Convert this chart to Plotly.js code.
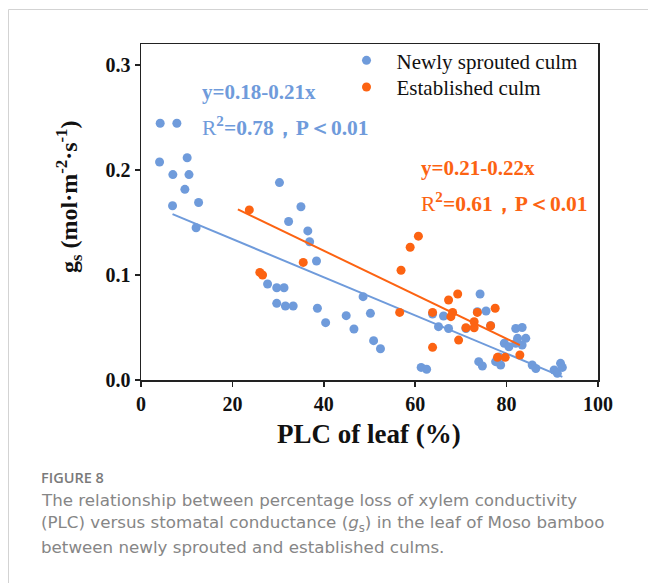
<!DOCTYPE html>
<html>
<head>
<meta charset="utf-8">
<script src="https://cdn.plot.ly/plotly-3.0.1.min.js"></script>
<style>
html,body{margin:0;padding:0;background:#fff;}
#chart{width:648px;height:583px;}
</style>
</head>
<body>
<div id="chart"></div>
<script>
// ---- data ----
const newlyX = [4.2,7.85,4.06,10.1,6.97,10.5,9.6,6.9,12.6,12.06,
  30.3,35.0,32.3,36.5,36.9,38.4,
  27.7,29.7,31.3,29.7,31.6,33.3,38.6,40.4,44.9,
  48.6,50.2,46.6,50.9,52.4,61.3,62.5,
  63.8,65.1,66.2,67.3,71.1,73.6,75.5,76.5,74.2,73.9,74.7,
  77.6,78.7,78.4,82.0,83.4,82.4,84.2,79.5,80.5,82.0,83.4,
  85.6,86.4,90.4,91.1,91.8,92.2];
const newlyY = [0.2445,0.2445,0.2076,0.2117,0.1956,0.1956,0.1816,0.166,0.169,0.145,
  0.188,0.165,0.151,0.142,0.1317,0.1133,
  0.0914,0.0879,0.0879,0.073,0.0705,0.0705,0.0683,0.0546,0.0613,
  0.0794,0.0635,0.0486,0.0375,0.0298,0.012,0.0102,
  0.0629,0.0508,0.061,0.049,0.049,0.065,0.0657,0.0517,0.0819,0.0175,0.0133,
  0.0175,0.0143,0.022,0.049,0.050,0.0397,0.0397,0.035,0.0317,0.035,0.0333,
  0.0143,0.011,0.0095,0.0064,0.0159,0.012];
const estX = [23.7,26.0,26.6,35.5,60.7,58.9,56.9,56.6,63.8,63.8,
  67.3,69.3,68.2,67.8,69.5,71.1,72.9,72.9,73.6,76.5,77.5,78.0,79.7,82.9];
const estY = [0.162,0.1025,0.100,0.112,0.137,0.1264,0.1045,0.0644,0.0644,0.0311,
  0.0762,0.0819,0.0644,0.0603,0.038,0.0498,0.0498,0.0555,0.0644,0.0517,0.0683,0.0216,0.0216,0.0238];
const fitNewlyX = [6.9, 92.2];
const fitNewlyY = [0.158, 0.003];
const fitEstX = [21.2, 82.9];
const fitEstY = [0.1625, 0.0333];
const seriesNames = ['Newly sprouted culm','Established culm'];
const xTicks = [0,20,40,60,80,100];
const yTicks = [0.0,0.1,0.2,0.3];

const BLUE = '#6f9bdb';
const ORANGE = '#fc6312';
const SERIF = 'Liberation Serif, Times New Roman, serif';
const SANS = 'DejaVu Sans, Open Sans, sans-serif';

// geometry helpers (pixel -> paper)
const L = 141, R = 598, T = 44, B = 380;
const W = 648, H = 583;
const px = p => (p - L) / (R - L);
const py = p => (B - p) / (B - T);

const traces = [
  {x:newlyX, y:newlyY, type:'scatter', mode:'markers', name:seriesNames[0], legend:'legend',
   marker:{color:BLUE, size:9}},
  {x:fitNewlyX, y:fitNewlyY, type:'scatter', mode:'lines', showlegend:false,
   line:{color:BLUE, width:2}},
  {x:estX, y:estY, type:'scatter', mode:'markers', name:seriesNames[1], legend:'legend2',
   marker:{color:ORANGE, size:9}},
  {x:fitEstX, y:fitEstY, type:'scatter', mode:'lines', showlegend:false,
   line:{color:ORANGE, width:2}}
];

const ann = [];
function addText(text, x, y, opts) {
  ann.push(Object.assign({xref:'paper', yref:'paper', x:px(x), y:py(y), text:text,
    showarrow:false, xanchor:'left', yanchor:'middle'}, opts));
}
addText('<b>y=0.18-0.21x</b>', 200, 91.5, {font:{family:SERIF, size:21, color:BLUE}});
addText('R<sup><b>2</b></sup><b>=0.78，P＜0.01</b>', 200, 126, {font:{family:SERIF, size:21.5, color:BLUE}});
addText('<b>y=0.21-0.22x</b>', 419, 167.5, {font:{family:SERIF, size:21, color:ORANGE}});
addText('R<sup><b>2</b></sup><b>=0.61，P＜0.01</b>', 419, 202, {font:{family:SERIF, size:21.5, color:ORANGE}});
addText('<b>g<sub>s</sub> (mol·m<sup>-2</sup>·s<sup>-1</sup>)</b>', 69, 197,
  {xanchor:'center', textangle:-90, font:{family:SERIF, size:24, color:'#111'}});
addText('<b>PLC of leaf (%)</b>', 369, 434, {xanchor:'center', font:{family:SERIF, size:27, color:'#111'}});
addText('FIGURE 8', 39, 477, {font:{family:'Open Sans, sans-serif', size:14.5, color:'#7a7a7a', weight:600}});
addText('The relationship between percentage loss of xylem conductivity', 39, 500, {font:{family:SANS, size:16.7, color:'#868686'}});
addText('(PLC) versus stomatal conductance (<i>g</i><sub>s</sub>) in the leaf of Moso bamboo', 39, 523, {font:{family:SANS, size:16.7, color:'#868686'}});
addText('between newly sprouted and established culms.', 39, 547, {font:{family:SANS, size:16.7, color:'#868686'}});

const shapes = [
  {type:'line', xref:'paper', yref:'paper', x0:px(8.5), x1:px(W+5), y0:py(9.5), y1:py(9.5), line:{color:'#d3d3d3', width:1}},
  {type:'line', xref:'paper', yref:'paper', x0:px(8.5), x1:px(8.5), y0:py(9.5), y1:py(H+5), line:{color:'#d3d3d3', width:1}}
];

const legendBase = {xanchor:'left', yanchor:'middle', bgcolor:'rgba(0,0,0,0)',
  font:{family:SERIF, size:21, color:'#111'}, itemwidth:50};

const layout = {
  width:W, height:H,
  margin:{l:L, r:W-R, t:T, b:H-B, pad:0},
  paper_bgcolor:'#fff', plot_bgcolor:'#fff',
  showlegend:true,
  legend:Object.assign({x:px(336.5), y:py(60.7)}, legendBase),
  legend2:Object.assign({x:px(336.5), y:py(87.3)}, legendBase),
  xaxis:{range:[0,100], tickvals:xTicks, ticktext:xTicks.map(String), showgrid:false, zeroline:false,
    showline:true, linecolor:'#222', linewidth:1.5, mirror:true,
    ticks:'outside', ticklen:5, tickwidth:1.5, tickcolor:'#222',
    tickfont:{family:SERIF, size:20, color:'#111', weight:'bold'}},
  yaxis:{range:[0,0.32], tickvals:yTicks, ticktext:yTicks.map(v=>v.toFixed(1)), showgrid:false, zeroline:false,
    showline:true, linecolor:'#222', linewidth:1.5, mirror:true,
    ticks:'outside', ticklen:5, tickwidth:1.5, tickcolor:'#222',
    tickfont:{family:SERIF, size:20, color:'#111', weight:'bold'}},
  annotations:ann,
  shapes:shapes
};

Plotly.newPlot('chart', traces, layout, {displayModeBar:false, staticPlot:true});
</script>
</body>
</html>
